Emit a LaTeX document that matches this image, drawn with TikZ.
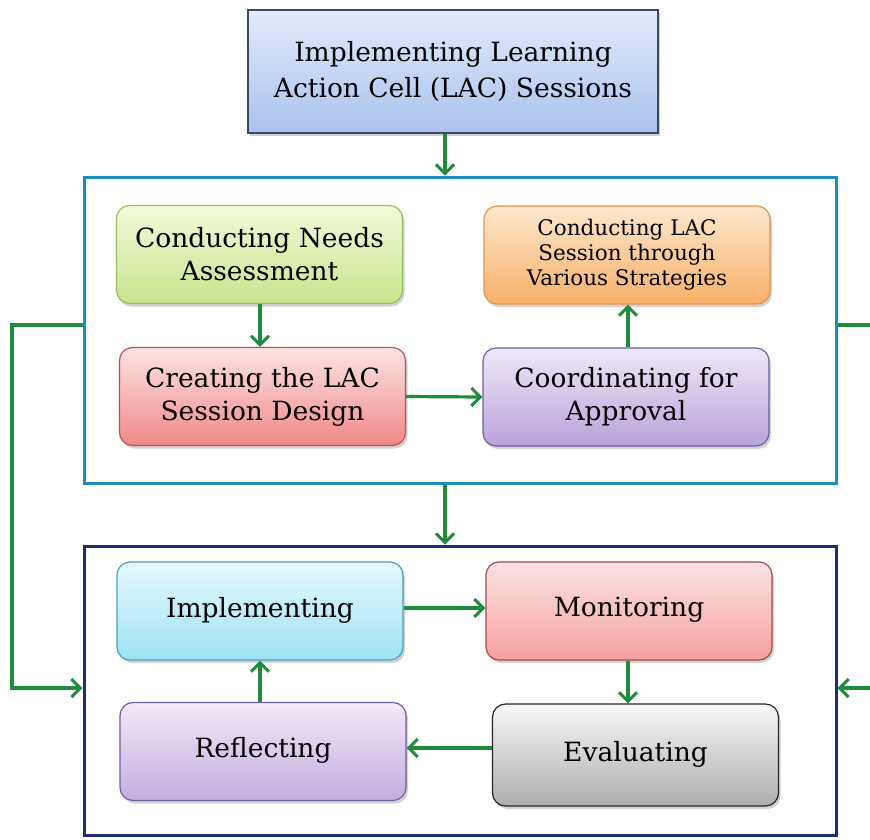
\documentclass[tikz,border=0pt]{standalone}
\usepackage{fontspec}
\setmainfont{DejaVu Serif}
\usetikzlibrary{arrows.meta,shadows,positioning}

\definecolor{flow}{HTML}{1E8C3A}
\definecolor{frameA}{HTML}{1F8CC0}
\definecolor{frameB}{HTML}{1A2F78}

\tikzset{
  box/.style={draw, line width=1.2pt, rounded corners=13pt, align=center,
    minimum width=286pt, minimum height=98pt, inner sep=2pt,
    drop shadow={shadow xshift=2pt, shadow yshift=-3pt, opacity=0.35},
    font=\fontsize{26.5}{33}\selectfont},
  frame/.style={draw, line width=3pt, fill=none},
  flowarrow/.style={draw=flow, line width=3.2pt, -{Straight Barb[length=9pt,width=18pt,line width=3pt]}},
}

\begin{document}
\begin{tikzpicture}[x=1pt,y=-1pt]
\path[use as bounding box, fill=white] (0,0) rectangle (870,839);
\clip (0,0) rectangle (870,839);

% title box
\node[draw={rgb,255:red,60;green,72;blue,100}, line width=1.5pt, align=center,
  minimum width=410pt, minimum height=123pt,
  top color={rgb,255:red,226;green,234;blue,251}, bottom color={rgb,255:red,170;green,194;blue,238},
  drop shadow={shadow xshift=2pt, shadow yshift=-3pt, opacity=0.35},
  font=\fontsize{26.5}{36}\selectfont] (title) at (453,71.5)
  {Implementing Learning\\Action Cell (LAC) Sessions};

% planning frame
\node[frame, draw=frameA, minimum width=752pt, minimum height=306pt] (plan) at (460,330) {};
\node[box, draw={rgb,255:red,150;green,190;blue,96}, top color={rgb,255:red,243;green,250;blue,218}, bottom color={rgb,255:red,198;green,229;blue,140}] (needs) at (259.5,254.5) {Conducting Needs\\Assessment};
\node[box, draw={rgb,255:red,224;green,150;blue,80}, top color={rgb,255:red,253;green,232;blue,206}, bottom color={rgb,255:red,247;green,176;blue,104}, font=\fontsize{21.5}{25}\selectfont] (conduct) at (627,255) {Conducting LAC\\Session through\\Various Strategies};
\node[box, draw={rgb,255:red,190;green,80;blue,80}, top color={rgb,255:red,253;green,228;blue,228}, bottom color={rgb,255:red,240;green,136;blue,136}] (design) at (262.5,396.5) {Creating the LAC\\Session Design};
\node[box, draw={rgb,255:red,110;green,95;blue,160}, top color={rgb,255:red,240;green,232;blue,247}, bottom color={rgb,255:red,185;green,162;blue,218}] (approve) at (626,397) {Coordinating for\\Approval};

% cycle frame
\node[frame, draw=frameB, minimum width=752pt, minimum height=289pt] (cycle) at (460,690.5) {};
\node[box, draw={rgb,255:red,70;green,160;blue,190}, top color={rgb,255:red,230;green,249;blue,253}, bottom color={rgb,255:red,158;green,226;blue,244}] (impl) at (260,611) {\raisebox{8pt}{Implementing}};
\node[box, draw={rgb,255:red,170;green,70;blue,70}, top color={rgb,255:red,253;green,228;blue,228}, bottom color={rgb,255:red,244;green,160;blue,160}] (monitor) at (629,611) {\raisebox{8pt}{Monitoring}};
\node[box, draw={rgb,255:red,110;green,95;blue,160}, top color={rgb,255:red,242;green,234;blue,248}, bottom color={rgb,255:red,196;green,172;blue,224}] (reflect) at (263,751.5) {\raisebox{8pt}{Reflecting}};
\node[box, draw=black!85, minimum height=102pt, top color=black!3, bottom color=black!32] (eval) at (635.5,755) {\raisebox{8pt}{Evaluating}};

% vertical axes of the straight connectors
\coordinate (mid) at (445,0);
\coordinate (leftcol) at (260,0);
\coordinate (rightcol) at (628,0);

% flow inside the planning frame
\draw[flowarrow] (title.south -| mid) -- (plan.north -| mid);
\draw[flowarrow] (needs.south -| leftcol) -- (design.north -| leftcol);
\draw[flowarrow] (design.east) -- (approve.west);
\draw[flowarrow] (approve.north -| rightcol) -- (conduct.south -| rightcol);
\draw[flowarrow] (plan.south -| mid) -- (cycle.north -| mid);

% flow inside the cycle frame
\draw[flowarrow] ([yshift=3pt]impl.east) -- ([yshift=3pt]impl.east -| monitor.west);
\draw[flowarrow] (monitor.south -| rightcol) -- (eval.north -| rightcol);
\draw[flowarrow] ([yshift=7pt]eval.west) -- ([yshift=7pt]eval.west -| reflect.east);
\draw[flowarrow] (reflect.north -| leftcol) -- (impl.south -| leftcol);

% feedback loops around the frames
\coordinate (lA) at (12,325);
\coordinate (lB) at (12,688);
\coordinate (rA) at (880,325);
\coordinate (rB) at (880,688);
\draw[flowarrow] (plan.west |- lA) -- (lA) -- (lB) -- (cycle.west |- lB);
\draw[flowarrow] (plan.east |- rA) -- (rA) -- (rB) -- (cycle.east |- rB);
\end{tikzpicture}
\end{document}
